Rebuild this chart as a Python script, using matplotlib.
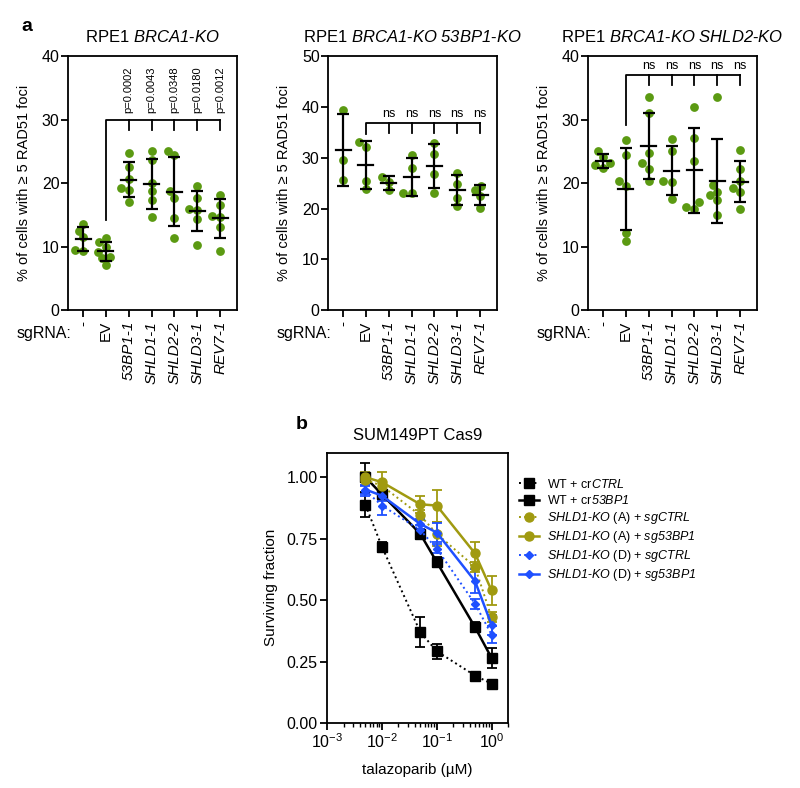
import numpy as np
import matplotlib
matplotlib.use('Agg')
from matplotlib import pyplot as plt
from matplotlib.lines import Line2D

plt.rcParams['font.family'] = ['Liberation Sans', 'DejaVu Sans']
plt.rcParams['mathtext.fontset'] = 'custom'
#   Tutto il testo matematico in corsivo (anche le cifre)
plt.rcParams['mathtext.rm'] = 'Liberation Sans:italic'
plt.rcParams['mathtext.it'] = 'Liberation Sans:italic'
plt.rcParams['mathtext.bf'] = 'Liberation Sans:bold'

#   Panel a: categories and values
sgrnas = ['-', 'EV', '53BP1-1', 'SHLD1-1', 'SHLD2-2', 'SHLD3-1', 'REV7-1']

brca1_ko = [
    [12.5, 13.5, 11.5, 9.3, 9.4],
    [10.7, 11.3, 10.0, 9.2, 8.4, 8.2, 7.1],
    [24.7, 22.6, 20.6, 19.2, 18.9, 17.1],
    [23.6, 25.1, 20.0, 18.7, 17.4, 14.6],
    [25.1, 24.5, 17.7, 18.8, 14.5, 11.4],
    [19.6, 17.7, 16.0, 15.8, 14.4, 10.2],
    [18.2, 16.6, 14.8, 14.6, 13.1, 9.3],
]
brca1_53bp1_ko = [
    [39.5, 29.6, 25.7],
    [33.2, 32.2, 25.4, 23.8],
    [26.2, 25.3, 23.6],
    [30.5, 28.0, 23.0, 23.0],
    [30.7, 33.0, 26.8, 23.0],
    [27.0, 24.9, 22.0, 20.4],
    [24.5, 23.6, 22.5, 20.1],
]
brca1_shld2_ko = [
    [23.1, 25.0, 24.1, 22.4, 22.8],
    [26.8, 24.5, 20.3, 19.6, 12.2, 10.8],
    [33.5, 31.0, 24.8, 23.1, 22.3, 20.4],
    [27.0, 25.0, 20.3, 20.1, 17.5],
    [32.0, 27.1, 23.5, 17.1, 16.3, 16.0],
    [33.5, 19.7, 18.6, 18.1, 17.4, 14.9],
    [25.2, 22.2, 20.3, 19.2, 18.6, 15.9],
]
pvalues = ['p=0.0002', 'p=0.0043', 'p=0.0348', 'p=0.0180', 'p=0.0012']

#   Panel b: dose response
doses = [0.005, 0.01, 0.05, 0.1, 0.5, 1.0]
wt_crctrl = [0.887, 0.717, 0.370, 0.292, 0.193, 0.160]
wt_crctrl_err = [0.05, 0.02, 0.06, 0.03, 0.01, 0.01]
wt_cr53bp1 = [1.00, 0.93, 0.77, 0.655, 0.39, 0.265]
wt_cr53bp1_err = [0.06, 0.02, 0.02, 0.02, 0.02, 0.04]
a_sgctrl = [0.99, 0.965, 0.845, 0.77, 0.635, 0.43]
a_sgctrl_err = [0.02, 0.02, 0.02, 0.05, 0.02, 0.02]
a_sg53bp1 = [1.00, 0.98, 0.89, 0.885, 0.69, 0.54]
a_sg53bp1_err = [0.02, 0.04, 0.035, 0.065, 0.045, 0.06]
d_sgctrl = [0.945, 0.885, 0.785, 0.71, 0.485, 0.36]
d_sgctrl_err = [0.02, 0.04, 0.02, 0.02, 0.02, 0.035]
d_sg53bp1 = [0.95, 0.925, 0.81, 0.775, 0.577, 0.40]
d_sg53bp1_err = [0.02, 0.02, 0.02, 0.04, 0.05, 0.04]

GREEN = '#5b9a12'
OLIVE = '#a09a10'
BLUE = '#1f50ff'


def swarm(values, xpx, ypx, dist=7.5):
    """Offsets orizzontali per non sovrapporre i punti (in pixel)."""
    order = np.argsort(values)
    offs = np.zeros(len(values))
    placed = []
    cands = [0.0]
    for k in range(1, 12):
        cands += [-k * 0.06, k * 0.06]
    for i in order:
        for o in cands:
            ok = True
            for (po, pv) in placed:
                d2 = ((o - po) * xpx) ** 2 + ((values[i] - pv) * ypx) ** 2
                if d2 < dist ** 2:
                    ok = False
                    break
            if ok:
                offs[i] = o
                placed.append((o, values[i]))
                break
    return offs


def scatterpanel(ax, data, ymax, title, bracket, evdrop, tick, labels):
    ypx = 254.0 / ymax
    xpx = 22.7
    for i, vals in enumerate(data):
        vals = np.array(vals)
        offs = swarm(vals, xpx, ypx)
        ax.scatter(i + offs, vals, s=40, color=GREEN, zorder=3, linewidths=0)
        m = vals.mean()
        sd = vals.std(ddof=1)
        ax.plot([i - 0.33, i + 0.33], [m, m], color='black', lw=1.6, zorder=4)
        ax.errorbar(i, m, yerr=sd, color='black', lw=1.6, capsize=4,
                    capthick=1.6, zorder=4)
    #   Parentesi di confronto con EV
    ax.plot([1, 1, 6], [evdrop, bracket, bracket], color='black', lw=1.3,
            clip_on=False)
    for j in range(2, 7):
        ax.plot([j, j], [bracket, bracket - tick], color='black', lw=1.3)
        if labels is None:
            ax.text(j, bracket + tick * 0.35, 'ns', ha='center', va='bottom',
                    fontsize=9)
        else:
            ax.text(j, bracket + tick * 0.7, labels[j - 2], ha='center',
                    va='bottom', rotation=90, fontsize=8)
    ax.set_xlim(-0.66, 6.73)
    ax.set_ylim(0, ymax)
    ax.set_yticks(np.arange(0, ymax + 1, 10))
    ax.set_xticks(range(7))
    ax.set_xticklabels(sgrnas, rotation=90, fontsize=11)
    for lab in ax.get_xticklabels()[2:]:
        lab.set_fontstyle('italic')
    ax.tick_params(axis='y', labelsize=11.5, length=5, width=1.3, pad=1)
    ax.tick_params(axis='x', length=5, width=1.3, pad=3)
    for s in ax.spines.values():
        s.set_linewidth(1.3)
    ax.set_ylabel(u'% of cells with \u2265 5 RAD51 foci', fontsize=10.5,
                  labelpad=8)
    ax.set_title(title, fontsize=12, pad=10)
    ax.text(0.02, -0.062, 'sgRNA:', transform=ax.transAxes, ha='right',
            va='top', fontsize=11.5)


fig = plt.figure(figsize=(8, 7.88), dpi=100)

ax1 = fig.add_axes([0.085, 0.6066, 0.211, 0.322])
scatterpanel(ax1, brca1_ko, 40, r'RPE1 $BRCA1$-$KO$',
             29.9, 14.2, 1.6, pvalues)
ax2 = fig.add_axes([0.41, 0.6066, 0.211, 0.322])
scatterpanel(ax2, brca1_53bp1_ko, 50,
             r'RPE1 $BRCA1$-$KO$ $53BP1$-$KO$',
             36.8, 34.6, 2.0, None)
ax3 = fig.add_axes([0.735, 0.6066, 0.211, 0.322])
scatterpanel(ax3, brca1_shld2_ko, 40,
             r'RPE1 $BRCA1$-$KO$ $SHLD2$-$KO$',
             37.0, 29.2, 1.6, None)

#   Panel b
ax4 = fig.add_axes([0.409, 0.0825, 0.226, 0.343])
series = [
    (wt_crctrl, wt_crctrl_err, 'black', 's', ':', 6.5, r'WT + cr$CTRL$'),
    (wt_cr53bp1, wt_cr53bp1_err, 'black', 's', '-', 6.5, r'WT + cr$53BP1$'),
    (a_sgctrl, a_sgctrl_err, OLIVE, 'o', ':', 6.5,
     r'$SHLD1$-$KO$ (A) + $sgCTRL$'),
    (a_sg53bp1, a_sg53bp1_err, OLIVE, 'o', '-', 6.5,
     r'$SHLD1$-$KO$ (A) + $sg53BP1$'),
    (d_sgctrl, d_sgctrl_err, BLUE, 'D', ':', 4.5,
     r'$SHLD1$-$KO$ (D) + $sgCTRL$'),
    (d_sg53bp1, d_sg53bp1_err, BLUE, 'D', '-', 4.5,
     r'$SHLD1$-$KO$ (D) + $sg53BP1$'),
]
handles = []
for y, e, c, mk, ls, ms, lab in series:
    lw = 1.8 if ls == '-' else 1.4
    ax4.errorbar(doses, y, yerr=e, color=c, marker=mk, ls=ls, lw=lw,
                 ms=ms, capsize=3.5, capthick=1.3, elinewidth=1.3)
    handles.append(Line2D([], [], color=c, marker=mk, ls=ls, lw=lw, ms=ms,
                          label=lab))
ax4.set_xscale('log')
ax4.set_xlim(1e-3, 2)
ax4.set_ylim(0, 1.1)
ax4.set_yticks([0, 0.25, 0.5, 0.75, 1.0])
ax4.set_yticklabels(['%.2f' % v for v in [0, 0.25, 0.5, 0.75, 1.0]])
ax4.set_xticks([1e-3, 1e-2, 1e-1, 1e0])
ax4.tick_params(axis='both', labelsize=11.5, length=5, width=1.3, pad=2)
ax4.tick_params(axis='x', which='minor', length=3, width=1)
for s in ax4.spines.values():
    s.set_linewidth(1.3)
ax4.set_title('SUM149PT Cas9', fontsize=12, pad=9)
ax4.set_ylabel('Surviving fraction', fontsize=11, labelpad=6)
ax4.set_xlabel(u'talazoparib (\u00b5M)', fontsize=11, labelpad=8)
fig.legend(handles=handles, loc='upper left', bbox_to_anchor=(0.643, 0.4),
           frameon=False, fontsize=9, handlelength=1.6, handletextpad=0.6,
           labelspacing=0.25, borderaxespad=0)

fig.text(0.027, 0.977, 'a', fontsize=14, fontweight='bold', va='top')
fig.text(0.37, 0.472, 'b', fontsize=14, fontweight='bold', va='top')

fig.savefig('out.png', dpi=100)
